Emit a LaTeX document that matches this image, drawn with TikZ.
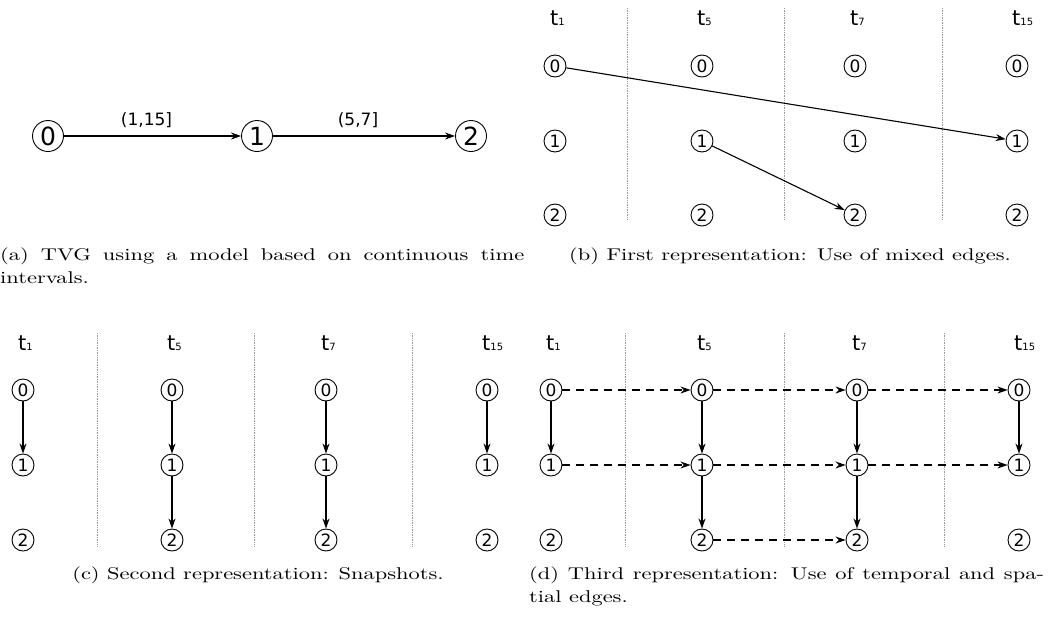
\documentclass[tikz,border=0pt]{standalone}
\usepackage{graphicx}
\usepackage{fontspec}
\newfontfamily\dejavu{DejaVu Sans}
\newfontfamily\capfont{lmroman10-regular}[Extension=.otf]
\usetikzlibrary{arrows.meta}

\tikzset{
  vtx/.style={circle, draw, line width=0.9pt, inner sep=0pt, minimum size=22pt,
    font=\dejavu\fontsize{17}{17}\selectfont},
  bigvtx/.style={vtx, minimum size=31pt, font=\dejavu\fontsize{25}{25}\selectfont},
  tlab/.style={anchor=base west, inner sep=0pt, font=\dejavu\fontsize{21}{21}\selectfont},
  elab/.style={inner sep=0pt, font=\dejavu\fontsize{17}{17}\selectfont},
  sep/.style={gray!80, densely dotted, line width=0.7pt},
  spat/.style={-{Stealth[length=10pt, width=7pt]}, line width=1.1pt},
  temp/.style={spat, dash pattern=on 8pt off 6pt},
  capt/.style={inner sep=0pt, anchor=base, font=\capfont\fontsize{17}{23}\selectfont},
}
\newcommand{\tsub}[1]{t{\fontsize{10}{10}\selectfont#1}}
% wide caption text, as in the reference
\newcommand{\capline}[1]{\scalebox{1.32}[1]{#1}}
\newcommand{\capblock}[2]{\scalebox{1.32}[1]{\parbox[t]{#1}{#2}}}

\begin{document}
\begin{tikzpicture}[x=1pt, y=-1pt]
  \useasboundingbox (0,0) rectangle (1052,619);

  % (a) continuous time intervals
  \node[bigvtx] (a0) at (48,136) {0};
  \node[bigvtx] (a1) at (257,136) {1};
  \node[bigvtx] (a2) at (471,136) {2};
  \draw[spat] (a0) -- node[elab, above=8pt, xshift=-6pt] {(1,15]} (a1);
  \draw[spat] (a1) -- node[elab, above=8pt, xshift=-6pt] {(5,7]} (a2);
  \node[capt, anchor=base west] (capa) at (0,260)
    {\capblock{397pt}{(a) TVG using a model based on continuous time\linebreak intervals.}};

  % (b) mixed edges
  \foreach \c/\x/\t in {1/555/1, 2/702/5, 3/855/7, 4/1017/15} {
    \node[tlab] (tb\c) at (\x-5,25) {\tsub{\t}};
    \foreach \r/\y in {0/66, 1/141, 2/215}
      \node[vtx] (b\r-\c) at (\x,\y) {\r};
  }
  \foreach \x in {627,784,942}
    \draw[sep] (\x,8) -- (\x,220);
  \draw[spat] (b0-1) -- (b1-4);
  \draw[spat] (b1-2) -- (b2-3);
  \node[capt] (capb) at (790,260)
    {\capline{(b) First representation: Use of mixed edges.}};

  % (c) snapshots
  \foreach \c/\x/\t in {1/23/1, 2/172/5, 3/326/7, 4/487/15} {
    \node[tlab] (tc\c) at (\x-5,350) {\tsub{\t}};
    \foreach \r/\y in {0/390, 1/465, 2/540}
      \node[vtx] (c\r-\c) at (\x,\y) {\r};
  }
  \foreach \x in {97,254,412}
    \draw[sep] (\x,333) -- (\x,546);
  \foreach \c in {1,...,4}
    \draw[spat] (c0-\c) -- (c1-\c);
  \foreach \c in {2,3}
    \draw[spat] (c1-\c) -- (c2-\c);
  \node[capt] (capc) at (258,579)
    {\capline{(c) Second representation: Snapshots.}};

  % (d) temporal and spatial edges
  \foreach \c/\x/\t in {1/551/1, 2/702/5, 3/857/7, 4/1019/15} {
    \node[tlab] (td\c) at (\x-5,350) {\tsub{\t}};
    \foreach \r/\y in {0/390, 1/465, 2/540}
      \node[vtx] (d\r-\c) at (\x,\y) {\r};
  }
  \foreach \x in {625,784,944}
    \draw[sep] (\x,333) -- (\x,546);
  \foreach \c in {1,...,4}
    \draw[spat] (d0-\c) -- (d1-\c);
  \foreach \c in {2,3}
    \draw[spat] (d1-\c) -- (d2-\c);
  \foreach \r in {0,1} {
    \draw[temp] (d\r-1) -- (d\r-2);
    \draw[temp] (d\r-2) -- (d\r-3);
    \draw[temp] (d\r-3) -- (d\r-4);
  }
  \draw[temp] (d2-2) -- (d2-3);
  \node[capt, anchor=base west] (capd) at (529,579)
    {\capblock{390pt}{(d) Third representation: Use of temporal and spa-\linebreak tial edges.}};
\end{tikzpicture}
\end{document}
